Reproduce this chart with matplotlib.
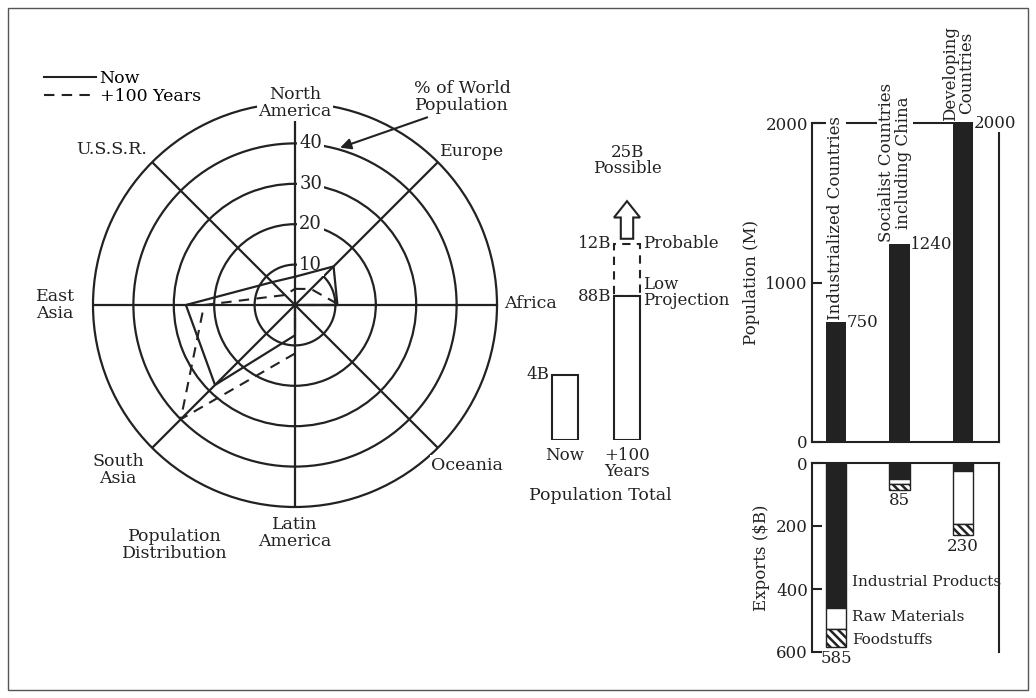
"""
World population: distribution by region, totals, and population/exports
by country group.  Output: out.png
"""
import numpy as np
import matplotlib
matplotlib.use("Agg")
import matplotlib.pyplot as plt
from matplotlib.lines import Line2D
from matplotlib.patches import Rectangle

# ── Data ─────────────────────────────────────────────────────────────────────
regions        = ["North\nAmerica", "Europe", "Africa", "Oceania",
                  "Latin\nAmerica", "South\nAsia", "East\nAsia", "U.S.S.R."]
region_angles  = [90, 45, 0, 315, 270, 225, 180, 135]
share_now      = [7, 13.5, 10.5, 0, 7.5, 28, 27, 8]
share_future   = [4, 5.6, 11, 0, 12, 40, 22.5, 3.5]
ring_values    = [10, 20, 30, 40]

total_labels   = ["Now", "+100\nYears"]
total_low      = [4, 8.8]          # billions
total_probable = 12
total_possible = 25

groups         = ["Industrialized Countries",
                  "Socialist Countries\nincluding China",
                  "Developing\nCountries"]
population_m   = [750, 1240, 2000]
exp_industrial = [460, 50, 25]
exp_raw        = [67, 17, 170]
exp_food       = [58, 18, 35]
exp_total      = [585, 85, 230]

INK = "#222222"
W, H = 1036, 698

plt.rcParams["font.family"] = "DejaVu Serif"
plt.rcParams["font.size"] = 12
plt.rcParams["hatch.linewidth"] = 1.8
plt.rcParams["hatch.color"] = INK

fig = plt.figure(figsize=(W / 100, H / 100), dpi=100)


def box(x0, y0, x1, y1):
    """pixel box (top-left origin) -> figure fraction rect"""
    return [x0 / W, 1 - y1 / H, (x1 - x0) / W, (y1 - y0) / H]


def ftext(x, y, s, **kw):
    fig.text(x / W, 1 - y / H, s, ha=kw.pop("ha", "center"),
             va=kw.pop("va", "center"), color=INK, linespacing=0.95, **kw)


# outer frame
fig.add_artist(Rectangle((8 / W, 8 / H), 1020 / W, 682 / H,
                         transform=fig.transFigure, fill=False,
                         ec="#555555", lw=1))

# ═════════════════════════════════════════════════════════════════════════════
# 1. POPULATION DISTRIBUTION (radar)
# ═════════════════════════════════════════════════════════════════════════════
ax = fig.add_axes(box(93, 103, 497, 507), projection="polar")
ax.set_xticks(np.radians(region_angles))
ax.set_xticklabels([])
ax.set_thetalim(0, 2 * np.pi)
ax.set_ylim(0, 50)
ax.set_yticks(ring_values)
ax.set_yticklabels([])
ax.grid(True, color=INK, lw=1.6)
ax.spines["polar"].set_linewidth(1.6)
ax.spines["polar"].set_color(INK)

theta = np.radians(region_angles + [region_angles[0]])
ax.plot(theta, share_now + [share_now[0]], color=INK, lw=1.6, zorder=3)
ax.plot(theta, share_future + [share_future[0]], color=INK, lw=1.5,
        ls=(0, (5, 3.5)), zorder=3)

for v in ring_values:
    ax.annotate(str(v), xy=(np.pi / 2, v), xytext=(3, 0),
                textcoords="offset points", ha="left", va="center",
                fontsize=13, color=INK, zorder=2, annotation_clip=False,
                bbox=dict(fc="white", ec="none", pad=1.5))

ax.annotate("% of World\nPopulation", xy=(np.radians(74), 40.5),
            xytext=(462, H - 97), textcoords="figure pixels",
            ha="center", va="center", fontsize=12.5, color=INK,
            linespacing=0.95, annotation_clip=False,
            arrowprops=dict(arrowstyle="-|>", color=INK, lw=1.5,
                            mutation_scale=16, relpos=(0.25, 0),
                            shrinkA=2, shrinkB=0))

label_xy = [(295, 103), (472, 152), (530, 303), (467, 465),
            (295, 533), (118, 470), (55, 305), (112, 150)]
for name, (x, y) in zip(regions, label_xy):
    ftext(x, y, name, fontsize=12.5,
          bbox=dict(fc="white", ec="none", pad=1))

ftext(175, 545, "Population\nDistribution", fontsize=12.5)

fig.legend(handles=[Line2D([], [], color=INK, lw=1.5),
                    Line2D([], [], color=INK, lw=1.5, ls=(0, (5, 3.5)))],
           labels=["Now", "+100 Years"], loc="upper left",
           bbox_to_anchor=(44 / W, 1 - 70 / H), frameon=False,
           handlelength=3.0, handletextpad=0.2, labelspacing=0.05,
           borderaxespad=0, borderpad=0, fontsize=12.5)

# ═════════════════════════════════════════════════════════════════════════════
# 2. POPULATION TOTAL
# ═════════════════════════════════════════════════════════════════════════════
ax2 = fig.add_axes(box(520, 130, 720, 440))
ax2.set_xlim(-45 / 62, 155 / 62)
ax2.set_ylim(0, 310 / 16.36)
ax2.axis("off")

pos = np.arange(len(total_low))
ax2.bar(pos[1], total_probable - total_low[1], bottom=total_low[1],
        width=0.42, fill=False, ec=INK, lw=1.5, ls=(0, (4, 3)), zorder=2)
ax2.bar(pos, total_low, width=0.42, fc="white", ec=INK, lw=1.5, zorder=3)
ax2.arrow(pos[1], total_probable + 0.3, 0, 2.3, width=0.2, head_width=0.42,
          head_length=1.0, length_includes_head=True, fc="white", ec=INK,
          lw=1.5)

ax2.text(pos[0] - 0.25, total_low[0], "4B", ha="right", va="center",
         color=INK)
ax2.text(pos[1] - 0.25, total_low[1], "88B", ha="right", va="center",
         color=INK)
ax2.text(pos[1] - 0.25, total_probable, "12B", ha="right", va="center",
         color=INK)
ax2.text(pos[1] + 0.26, total_probable, "Probable", ha="left", va="center",
         color=INK)
ax2.text(pos[1] + 0.26, total_low[1] + 0.2, "Low\nProjection", ha="left",
         va="center", color=INK, linespacing=0.95)
ax2.text(pos[1], 17.1, f"{total_possible}B\nPossible", ha="center",
         va="center", color=INK, linespacing=0.95)
for p, lab in zip(pos, total_labels):
    ax2.text(p, -0.4, lab, ha="center", va="top", color=INK,
             linespacing=0.95)
ftext(600, 495, "Population Total", fontsize=12.5)

# ═════════════════════════════════════════════════════════════════════════════
# 3. POPULATION / EXPORTS BY COUNTRY GROUP
# ═════════════════════════════════════════════════════════════════════════════
gx = np.arange(len(groups))
xlim = (-24 / 63.5, 163 / 63.5)

ax3 = fig.add_axes(box(812, 123, 999, 442))
ax3.bar(gx, population_m, width=0.315, color=INK)
ax3.set_xlim(*xlim)
ax3.set_ylim(0, 2000)
ax3.set_xticks([])
ax3.set_yticks([0, 1000, 2000])
ax3.set_ylabel("Population (M)", color=INK, labelpad=4)
for s in ax3.spines.values():
    s.set_linewidth(1.5)
    s.set_color(INK)
ax3.tick_params(axis="y", direction="in", length=7, width=1.5, pad=3,
                colors=INK)

for i, v in enumerate(population_m):
    ax3.text(gx[i] + 0.17, v, str(v), ha="left", va="center", color=INK,
             bbox=dict(fc="white", ec="none", pad=0.5))
for i, g in enumerate(groups):
    ax3.text(gx[i] - 0.07 * (i >= 1), population_m[i] + 15, g,
             rotation=90, ha="center", va="bottom", color=INK,
             linespacing=0.95, bbox=dict(fc="white", ec="none", pad=1),
             clip_on=False)

ax4 = fig.add_axes(box(812, 463, 999, 652))
ax4.bar(gx, exp_industrial, width=0.315, color=INK, ec=INK, lw=1)
ax4.bar(gx, exp_raw, bottom=exp_industrial, width=0.315, fc="white",
        ec=INK, lw=1)
ax4.bar(gx, exp_food, bottom=np.add(exp_industrial, exp_raw), width=0.315,
        fc="white", ec=INK, lw=1, hatch="\\\\\\\\")
ax4.set_xlim(*xlim)
ax4.set_ylim(600, 0)
ax4.set_xticks([])
ax4.set_yticks([0, 200, 400, 600])
ax4.set_ylabel("Exports ($B)", color=INK, labelpad=4)
for s in ax4.spines.values():
    s.set_linewidth(1.5)
    s.set_color(INK)
ax4.spines["bottom"].set_visible(False)
ax4.tick_params(axis="y", direction="in", length=7, width=1.5, pad=3,
                colors=INK)

for i, v in enumerate(exp_total):
    ax4.text(gx[i], v + 8, str(v), ha="center", va="top", color=INK)
ax4.text(0.25, 378, "Industrial Products", ha="left", va="center",
         color=INK, fontsize=11)
ax4.text(0.25, 489, "Raw Materials", ha="left", va="center", color=INK,
         fontsize=11)
ax4.text(0.25, 562, "Foodstuffs", ha="left", va="center", color=INK,
         fontsize=11)

fig.savefig("out.png", dpi=100, facecolor="white")
